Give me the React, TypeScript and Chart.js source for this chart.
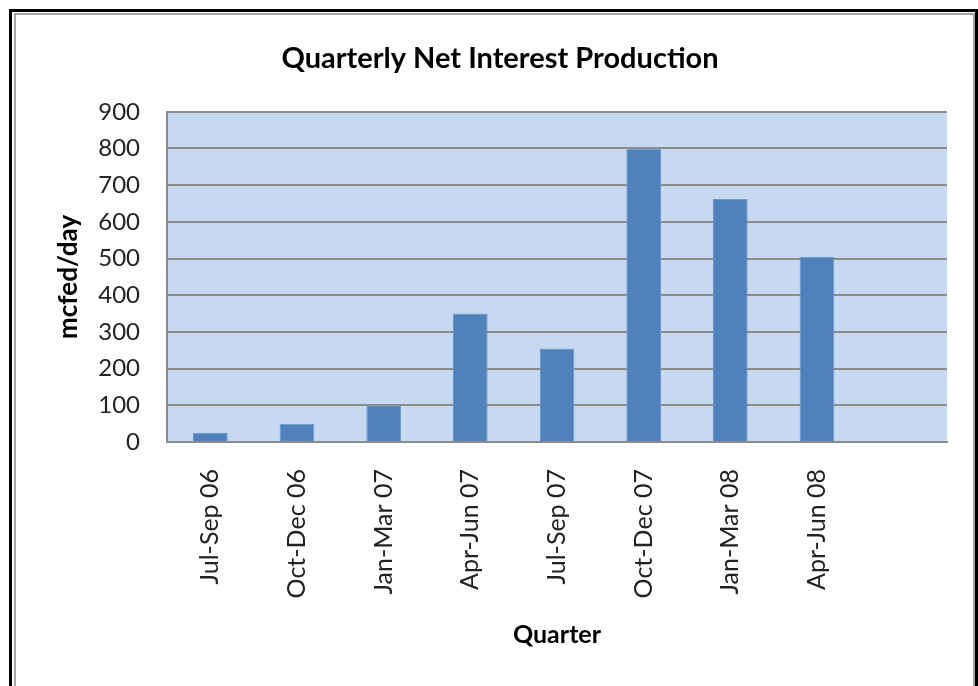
import React, { useEffect, useRef } from "react";
import { Chart, registerables } from "chart.js";

Chart.register(...registerables);

const titleText = "Quarterly Net Interest Production";
const yAxisTitle = "mcfed/day";
const xAxisTitle = "Quarter";
const categories = [
  "Jul-Sep 06",
  "Oct-Dec 06",
  "Jan-Mar 07",
  "Apr-Jun 07",
  "Jul-Sep 07",
  "Oct-Dec 07",
  "Jan-Mar 08",
  "Apr-Jun 08",
  "",
];
const productionValues = [25, 50, 100, 350, 255, 800, 662, 505, null];
const yTicks = [0, 100, 200, 300, 400, 500, 600, 700, 800, 900];

const FONT = "Lato, 'Open Sans', sans-serif";

const plotBg = {
  id: "plotBg",
  beforeDraw(chart: any) {
    const { ctx, chartArea } = chart;
    ctx.save();
    ctx.fillStyle = "#C6D9F1";
    ctx.fillRect(chartArea.left, chartArea.top, chartArea.right - chartArea.left, chartArea.bottom - chartArea.top);
    ctx.restore();
  },
};

export default function App() {
  const ref = useRef<HTMLCanvasElement | null>(null);

  useEffect(() => {
    if (!ref.current) return;
    const chart = new Chart(ref.current, {
      type: "bar",
      data: {
        labels: categories,
        datasets: [
          {
            data: productionValues as any,
            backgroundColor: "#4F81BD",
            borderColor: "#6E97C8",
            borderWidth: 1,
            categoryPercentage: 1,
            barPercentage: 0.4,
          },
        ],
      },
      plugins: [plotBg],
      options: {
        animation: false,
        responsive: false,
        layout: { padding: { left: 53, right: 31, top: 0, bottom: 36 } },
        plugins: {
          legend: { display: false },
          tooltip: { enabled: false },
          title: {
            display: true,
            text: titleText,
            color: "#000",
            font: { family: FONT, size: 29, weight: "bold" },
            padding: { top: 41, bottom: 36 },
          },
        },
        scales: {
          x: {
            grid: { display: false, drawTicks: false },
            border: { display: true, color: "#8C8C8C", width: 2 },
            ticks: {
              minRotation: 90,
              maxRotation: 90,
              autoSkip: false,
              padding: 27,
              color: "#222",
              font: { family: FONT, size: 25 },
            },
            title: {
              display: true,
              text: xAxisTitle,
              color: "#000",
              padding: 0,
              font: { family: FONT, size: 25, weight: "bold" },
            },
            afterFit(scale: any) {
              scale.height = 208;
            },
          },
          y: {
            min: 0,
            max: 900,
            grid: { color: "#8C8C8C", lineWidth: 2, drawTicks: false },
            border: { display: true, color: "#8C8C8C", width: 2 },
            afterBuildTicks(scale: any) {
              scale.ticks = yTicks.map((v) => ({ value: v }));
            },
            ticks: {
              padding: 27,
              color: "#222",
              font: { family: FONT, size: 24 },
            },
            title: {
              display: true,
              text: yAxisTitle,
              color: "#000",
              padding: 0,
              font: { family: FONT, size: 26, weight: "bold" },
            },
            afterFit(scale: any) {
              scale.width = 114;
            },
          },
        },
      },
    });
    return () => chart.destroy();
  }, []);

  return (
    <div style={{ position: "fixed", left: 0, top: 0, width: 978, height: 686, background: "#fff", overflow: "hidden" }}>
      <div style={{ position: "absolute", left: 9, top: 9, width: 978 - 9 - 6, height: 700, borderLeft: "3px solid #000", borderTop: "3px solid #000", borderRight: "3px solid #000" }} />
      <div style={{ position: "absolute", left: 14, top: 13, width: 975 - 14 - 4, height: 700, borderLeft: "2px solid #A6A6A6", borderTop: "2px solid #A6A6A6", borderRight: "2px solid #A6A6A6" }} />
      <canvas ref={ref} width={978} height={686} style={{ position: "absolute", left: 0, top: 0, width: 978, height: 686 }} />
    </div>
  );
}
